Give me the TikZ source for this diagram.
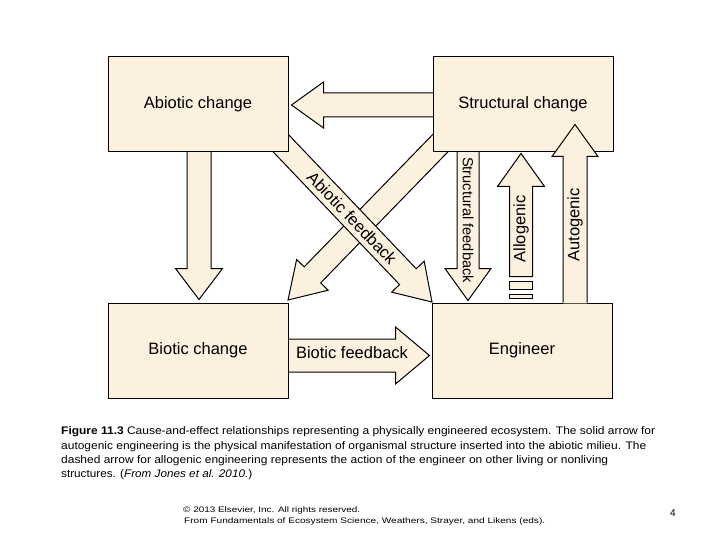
\documentclass[tikz,border=0pt]{standalone}
\usepackage{fontspec}
\usepackage{graphicx}
\setmainfont{Liberation Sans}
\usetikzlibrary{calc}
\pgfdeclarelayer{background}
\pgfdeclarelayer{fore}
\pgfsetlayers{background,main,fore}
\definecolor{boxfill}{RGB}{252,240,222}
\tikzset{
  boxst/.style={draw=black, fill=boxfill, line width=1pt, minimum width=180pt, minimum height=95pt, inner sep=0pt, font=\fontsize{16.5}{18}\selectfont},
  arr/.style={draw=black, fill=boxfill, line width=1pt, line join=miter},
  lbl/.style={font=\fontsize{16.5}{18}\selectfont, inner sep=0pt},
  captext/.style={anchor=west, inner sep=0pt, font=\fontsize{11}{13}\selectfont},
  foottext/.style={anchor=west, inner sep=0pt, font=\fontsize{8}{10}\selectfont}
}
% #1 options, #2 start, #3 tip, #4 shaft half width, #5 head half width, #6 head length
\newcommand\fatarrow[6][]{%
  \coordinate (fas) at (#2);
  \coordinate (fat) at (#3);
  \coordinate (fah) at ($(fat)!#6!(fas)$);
  \draw[arr,#1] ($(fas)!#4!90:(fat)$) -- ($(fah)!#4!-90:(fas)$) -- ($(fah)!#5!-90:(fas)$) -- (fat)
     -- ($(fah)!#5!90:(fas)$) -- ($(fah)!#4!90:(fas)$) -- ($(fas)!#4!-90:(fat)$) -- cycle;
}
\begin{document}
\begin{tikzpicture}[x=1pt,y=-1pt]
\useasboundingbox (0,0) rectangle (720,540);

% boxes
\node[boxst] (abio) at (198,104.5) {Abiotic change};
\node[boxst] (struct) at (523,104.5) {Structural change};
\node[boxst] (bio) at (198,350.5) {Biotic change};
\node[boxst] (eng) at (522,350.5) {Engineer};

\begin{pgfonlayer}{background}
\fill[white] (0,0) rectangle (720,540);
% diagonal: structural -> biotic (below)
\fatarrow{450.5,132.7}{288,300}{11.5pt}{22pt}{35pt}
% diagonal: abiotic feedback (on top)
\fatarrow{271.2,133.1}{432,302}{11.5pt}{22.5pt}{35pt}
% structural -> abiotic
\fatarrow{$(struct.west)+(8,0.5)$}{$(abio.east)+(3,0.5)$}{12pt}{23pt}{32pt}
% abiotic -> biotic
\fatarrow{$(abio.south)+(1,-8)$}{$(bio.north)+(1,-3)$}{12pt}{23.5pt}{31pt}
% structural feedback
\fatarrow{$(struct.south)+(-55,-8)$}{$(struct.south)+(-55,148)$}{11pt}{23pt}{32pt}
% biotic feedback
\fatarrow{$(bio.east)+(-8,5)$}{$(eng.west)+(-2,5)$}{16.5pt}{28.5pt}{34pt}
\end{pgfonlayer}

\begin{pgfonlayer}{fore}
% allogenic (dashed shaft)
\coordinate (allot) at ($(eng.north)+(-1,-149)$);
\draw[arr] (allot) -- ++(23.5,33) -- ++(-12,0) -- ++(0,90) -- ++(-23,0) -- ++(0,-90) -- ++(-12,0) -- cycle;
\draw[arr] ($(allot)+(-11.5,128)$) rectangle ($(allot)+(11.5,136)$);
\draw[arr] ($(allot)+(-11.5,141)$) rectangle ($(allot)+(11.5,145)$);
% autogenic (solid, over structural box, opening into engineer)
\coordinate (autob) at ($(eng.north)+(53,0)$);
\fill[boxfill] ($(autob)+(-12,0.8)$) -- ($(autob)+(-12,-146)$) -- ($(autob)+(-23,-146)$) -- ($(autob)+(0,-178)$)
   -- ($(autob)+(23,-146)$) -- ($(autob)+(12,-146)$) -- ($(autob)+(12,0.8)$) -- cycle;
\draw[line width=1pt, line join=miter] ($(autob)+(-12,0)$) -- ($(autob)+(-12,-146)$) -- ($(autob)+(-23,-146)$) -- ($(autob)+(0,-178)$)
   -- ($(autob)+(23,-146)$) -- ($(autob)+(12,-146)$) -- ($(autob)+(12,0)$);

% arrow labels
\node[lbl, font=\fontsize{14.6}{16}\selectfont, rotate=-90] (lsf) at (468,220) {Structural feedback};
\node[lbl, rotate=90] (lal) at (521,229) {Allogenic};
\node[lbl, rotate=90] (lau) at (575,225) {Autogenic};
\node[lbl, rotate=-46.4] (lab) at (352,218) {Abiotic feedback};
\node[lbl] (lbf) at (352,353) {Biotic feedback};
\end{pgfonlayer}

% caption
\node[captext] (c1) at (61,432) {\resizebox{594pt}{\height}{\textbf{Figure 11.3} Cause-and-effect relationships representing a physically engineered ecosystem. The solid arrow for}};
\node[captext] (c2) at (61,447) {\resizebox{585pt}{\height}{autogenic engineering is the physical manifestation of organismal structure inserted into the abiotic milieu. The}};
\node[captext] (c3) at (61,461) {\resizebox{547pt}{\height}{dashed arrow for allogenic engineering represents the action of the engineer on other living or nonliving}};
\node[captext] (c4) at (61,475) {\resizebox{191pt}{\height}{structures. (\textit{From Jones et al. 2010.})}};

% footer
\node[foottext] (f1) at (183,510) {\resizebox{177pt}{\height}{© 2013 Elsevier, Inc. All rights reserved.}};
\node[foottext] (f2) at (184,521) {\resizebox{361pt}{\height}{From Fundamentals of Ecosystem Science, Weathers, Strayer, and Likens (eds).}};
\node[inner sep=0pt, font=\fontsize{10}{12}\selectfont] (pg) at (673,513) {4};
\end{tikzpicture}
\end{document}
